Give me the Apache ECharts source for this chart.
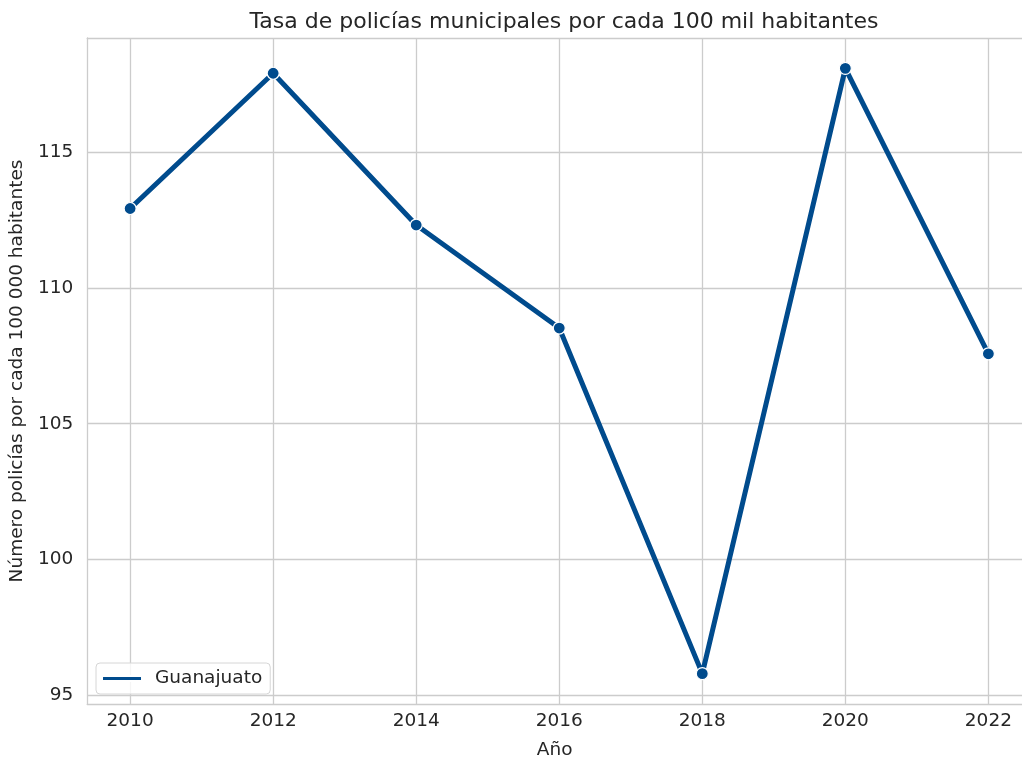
<!DOCTYPE html>
<html>
<head>
<meta charset="utf-8">
<script src="https://cdn.jsdelivr.net/npm/echarts@6/dist/echarts.min.js"></script>
<style>
  html, body { margin: 0; padding: 0; background: #fff; }
  #chart { width: 1022px; height: 765px; }
</style>
</head>
<body>
<div id="chart"></div>
<script>
// datos
const years = [2010, 2012, 2014, 2016, 2018, 2020, 2022];
const guanajuato = [112.94, 117.93, 112.33, 108.53, 95.78, 118.11, 107.58];
const xTicks = [2010, 2012, 2014, 2016, 2018, 2020, 2022];
const yTicks = [95, 100, 105, 110, 115];

const textColor = '#262626';
const gridColor = '#cccccc';
const lineColor = '#004b8d';
const font = 'DejaVu Sans';

const chart = echarts.init(document.getElementById('chart'), null, { renderer: 'canvas' });

const spine = { show: true, lineStyle: { color: gridColor, width: 1.3 } };

const option = {
  backgroundColor: '#fff',
  animation: false,
  title: {
    text: 'Tasa de policías municipales por cada 100 mil habitantes',
    left: 559,
    top: 6,
    textAlign: 'center',
    textStyle: { color: textColor, fontFamily: font, fontSize: 22, fontWeight: 'normal' }
  },
  legend: {
    left: 96,
    top: 663,
    orient: 'vertical',
    padding: [6, 8, 6, 5],
    itemWidth: 40,
    itemHeight: 5,
    itemGap: 8,
    icon: 'roundRect',
    itemStyle: { color: lineColor },
    borderColor: '#d6d6d6',
    borderWidth: 1,
    borderRadius: 4,
    backgroundColor: 'rgba(255,255,255,0.8)',
    textStyle: { color: textColor, fontFamily: font, fontSize: 18.5, padding: [0, 0, 0, 8] },
    data: ['Guanajuato']
  },
  grid: {
    left: 87,
    top: 38,
    right: 0,
    bottom: 59,
    show: false,
    containLabel: false
  },
  xAxis: [
    {
      type: 'value',
      min: 2009.4,
      max: 2022.47,
      name: 'Año',
      nameLocation: 'middle',
      nameGap: 37,
      nameTextStyle: { color: textColor, fontFamily: font, fontSize: 18.5 },
      axisLine: spine,
      axisTick: { show: false },
      axisLabel: {
        customValues: xTicks,
        margin: 8,
        color: textColor,
        fontFamily: font,
        fontSize: 18.5,
        formatter: v => String(v)
      },
      splitLine: { show: false }
    },
    {
      // borde superior
      type: 'value',
      position: 'top',
      min: 2009.4,
      max: 2022.47,
      axisLine: spine,
      axisTick: { show: false },
      axisLabel: { show: false },
      splitLine: { show: false }
    }
  ],
  yAxis: {
    type: 'value',
    min: 94.66,
    max: 119.23,
    name: 'Número policías por cada 100 000 habitantes',
    nameLocation: 'middle',
    nameGap: 57,
    nameTextStyle: { color: textColor, fontFamily: font, fontSize: 18.5 },
    axisLine: spine,
    axisTick: { show: false },
    axisLabel: {
      customValues: yTicks,
      margin: 14,
      color: textColor,
      fontFamily: font,
      fontSize: 18.5
    },
    splitLine: { show: false }
  },
  series: [
    {
      name: 'Guanajuato',
      type: 'line',
      data: years.map((y, i) => [y, guanajuato[i]]),
      symbol: 'circle',
      symbolSize: 12,
      showSymbol: true,
      lineStyle: { color: lineColor, width: 5 },
      itemStyle: { color: lineColor, borderColor: '#fff', borderWidth: 1.2 },
      z: 3,
      // líneas de la cuadrícula en los valores de los ticks
      markLine: {
        silent: true,
        symbol: 'none',
        label: { show: false },
        lineStyle: { color: gridColor, width: 1.3, type: 'solid' },
        z: 1,
        data: xTicks.map(v => ({ xAxis: v })).concat(yTicks.map(v => ({ yAxis: v })))
      }
    }
  ]
};

chart.setOption(option);
</script>
</body>
</html>
